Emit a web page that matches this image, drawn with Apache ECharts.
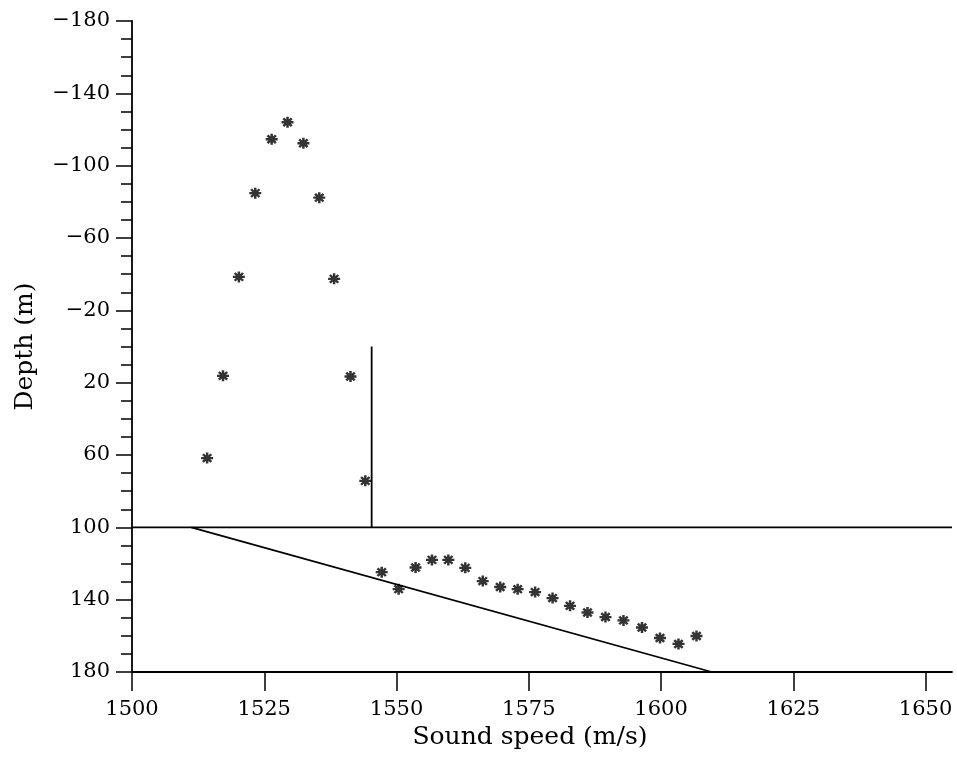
<!DOCTYPE html>
<html>
<head>
<meta charset="utf-8">
<script src="https://cdn.jsdelivr.net/npm/echarts@6/dist/echarts.min.js"></script>
<style>
  html, body { margin: 0; padding: 0; background: #fff; }
  #chart { width: 957px; height: 780px; }
</style>
</head>
<body>
<div id="chart"></div>
<script>
// Measured sound-speed profile points (stars)
const upperSpeed = [1514.2, 1517.2, 1520.2, 1523.3, 1526.4, 1529.4, 1532.4, 1535.4, 1538.2, 1541.3, 1544.1];
const upperDepth = [61.7, 16.2, -38.5, -84.8, -114.6, -124.0, -112.4, -82.3, -37.4, 16.6, 74.3];
const lowerSpeed = [1547.2, 1550.4, 1553.6, 1556.7, 1559.8, 1563.0, 1566.3, 1569.6, 1572.9, 1576.2, 1579.5, 1582.8, 1586.1, 1589.5, 1592.9, 1596.4, 1599.8, 1603.3, 1606.7];
const lowerDepth = [124.8, 134.2, 122.2, 118.0, 118.0, 122.4, 129.7, 133.0, 134.2, 135.8, 139.1, 143.4, 147.1, 149.6, 151.5, 155.4, 161.2, 164.5, 160.1];

// Model lines
const interfaceSpeed = [1500, 1655];
const interfaceDepth = [100, 100];
const bottomSpeed = [1500, 1655];
const bottomDepth = [180, 180];
const waterSpeed = [1545.3, 1545.3];
const waterDepth = [0, 100];
const sedimentSpeed = [1511.2, 1609.6];
const sedimentDepth = [100, 180];

// Axis ticks
const xTicks = [1500, 1525, 1550, 1575, 1600, 1625, 1650];
const yLabelTicks = [-180, -140, -100, -60, -20, 20, 60, 100, 140, 180];
const yMinorTicks = [-180, -170, -160, -150, -140, -130, -120, -110, -100, -90, -80, -70, -60, -50, -40, -30, -20, -10, 0, 10, 20, 30, 40, 50, 60, 70, 80, 90, 100, 110, 120, 130, 140, 150, 160, 170, 180];

const FONT = 'DejaVu Serif';
const zip = (a, b) => a.map((v, i) => [v, b[i]]);

const lineSeries = (xs, ys) => ({
  type: 'line',
  data: zip(xs, ys),
  showSymbol: false,
  symbol: 'none',
  lineStyle: { color: '#000', width: 1.8 },
  silent: true,
  animation: false
});

const chart = echarts.init(document.getElementById('chart'), null, { renderer: 'canvas' });
chart.setOption({
  animation: false,
  backgroundColor: '#fff',
  grid: { left: 132, top: 21, right: 5, bottom: 108, containLabel: false },
  xAxis: {
    type: 'value',
    min: 1500,
    max: 1655,
    name: 'Sound speed (m/s)',
    nameLocation: 'middle',
    nameGap: 50,
    nameTextStyle: { fontFamily: FONT, fontSize: 25, color: '#000', padding: [0, 24, 0, 0] },
    axisLine: { show: true, onZero: false, lineStyle: { color: '#000', width: 1.8 } },
    axisTick: { show: true, inside: false, length: 19, customValues: xTicks, lineStyle: { color: '#000', width: 1.5 } },
    axisLabel: { customValues: xTicks, fontFamily: FONT, fontSize: 21, color: '#000', margin: 27, formatter: v => String(v) },
    splitLine: { show: false }
  },
  yAxis: [{
    type: 'value',
    min: -180,
    max: 180,
    inverse: true,
    position: 'left',
    name: 'Depth (m)',
    nameLocation: 'middle',
    nameGap: 94,
    nameTextStyle: { fontFamily: FONT, fontSize: 25, color: '#000' },
    axisLine: { show: true, onZero: false, lineStyle: { color: '#000', width: 1.8 } },
    axisTick: { show: true, inside: false, length: 16, customValues: yLabelTicks, lineStyle: { color: '#000', width: 1.5 } },
    axisLabel: {
      customValues: yLabelTicks,
      fontFamily: FONT, fontSize: 21, color: '#000', margin: 22,
      formatter: v => (v < 0 ? '\u2212' + Math.abs(v) : String(v))
    },
    splitLine: { show: false }
  }, {
    type: 'value',
    min: -180,
    max: 180,
    inverse: true,
    position: 'left',
    axisLine: { show: false, onZero: false },
    axisTick: { show: true, inside: false, length: 11, customValues: yMinorTicks, lineStyle: { color: '#000', width: 1.5 } },
    axisLabel: { show: false },
    splitLine: { show: false }
  }],
  series: [
    lineSeries(interfaceSpeed, interfaceDepth),
    lineSeries(bottomSpeed, bottomDepth),
    lineSeries(waterSpeed, waterDepth),
    lineSeries(sedimentSpeed, sedimentDepth),
    {
      type: 'scatter',
      data: zip(upperSpeed, upperDepth).concat(zip(lowerSpeed, lowerDepth)),
      symbol: 'path://M0,5L10,5M5,0L5,10M1.5,1.5L8.5,8.5M8.5,1.5L1.5,8.5',
      symbolSize: [12, 11],
      itemStyle: { color: 'rgba(0,0,0,0)', borderColor: '#000', borderWidth: 2.4 },
      silent: true,
      animation: false
    }
  ]
});
</script>
</body>
</html>
